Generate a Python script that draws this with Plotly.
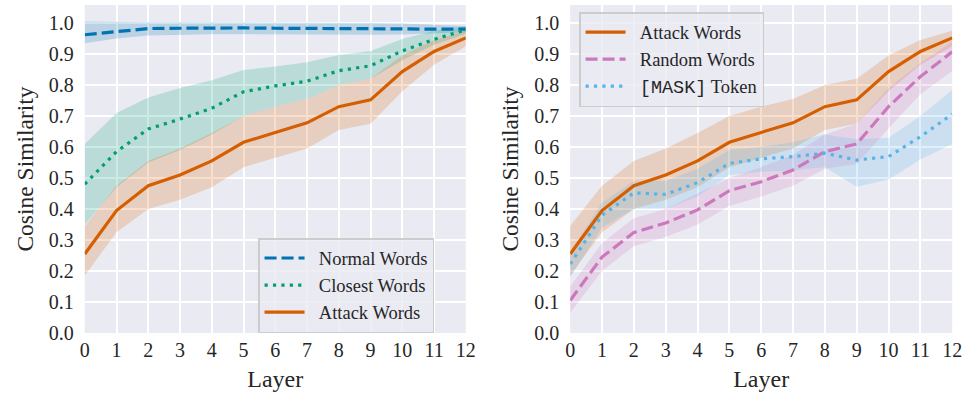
import plotly.graph_objects as go

layers = list(range(13))

# Left panel
normal_mean = [0.962, 0.972, 0.982, 0.983, 0.984, 0.984, 0.983, 0.983, 0.983, 0.982, 0.981, 0.980, 0.980]
normal_lo   = [0.935, 0.950, 0.960, 0.962, 0.964, 0.964, 0.963, 0.963, 0.963, 0.962, 0.963, 0.966, 0.970]
normal_hi   = [1.005, 1.003, 1.002, 1.002, 1.002, 1.002, 1.001, 1.001, 1.001, 1.000, 0.998, 0.994, 0.990]

closest_mean = [0.480, 0.585, 0.658, 0.690, 0.725, 0.778, 0.797, 0.812, 0.846, 0.862, 0.910, 0.947, 0.978]
closest_lo   = [0.350, 0.470, 0.550, 0.590, 0.640, 0.700, 0.730, 0.755, 0.800, 0.820, 0.880, 0.930, 0.965]
closest_hi   = [0.610, 0.710, 0.760, 0.790, 0.815, 0.848, 0.860, 0.873, 0.897, 0.910, 0.948, 0.975, 0.990]

attack_mean = [0.255, 0.395, 0.475, 0.510, 0.555, 0.615, 0.647, 0.678, 0.730, 0.752, 0.843, 0.908, 0.952]
attack_lo   = [0.185, 0.325, 0.400, 0.430, 0.470, 0.535, 0.565, 0.595, 0.655, 0.675, 0.780, 0.865, 0.925]
attack_hi   = [0.345, 0.475, 0.555, 0.595, 0.645, 0.700, 0.730, 0.755, 0.800, 0.820, 0.895, 0.945, 0.975]

# Right panel
random_mean = [0.105, 0.245, 0.324, 0.355, 0.397, 0.459, 0.488, 0.526, 0.585, 0.610, 0.730, 0.827, 0.907]
random_lo   = [0.065, 0.200, 0.280, 0.310, 0.350, 0.410, 0.440, 0.475, 0.530, 0.545, 0.660, 0.770, 0.845]
random_hi   = [0.150, 0.290, 0.370, 0.400, 0.450, 0.500, 0.535, 0.575, 0.640, 0.675, 0.790, 0.870, 0.940]

mask_mean = [0.222, 0.380, 0.452, 0.447, 0.485, 0.547, 0.562, 0.569, 0.580, 0.558, 0.569, 0.633, 0.706]
mask_lo   = [0.180, 0.340, 0.400, 0.400, 0.440, 0.510, 0.520, 0.525, 0.535, 0.472, 0.495, 0.560, 0.610]
mask_hi   = [0.260, 0.420, 0.490, 0.490, 0.530, 0.590, 0.600, 0.615, 0.640, 0.625, 0.630, 0.700, 0.785]

BLUE = "#0173B2"
GREEN = "#029E73"
ORANGE = "#D55E00"
PINK = "#CC78BC"
LBLUE = "#56B4E9"

def rgba(hexc, a):
    h = hexc.lstrip("#")
    return "rgba(%d,%d,%d,%.2f)" % (int(h[0:2], 16), int(h[2:4], 16), int(h[4:6], 16), a)

SERIF = "Liberation Serif, Times New Roman, serif"
TXT = "#262626"
GAP = "\u2002"

fig = go.Figure()

def band(lo, hi, color, xa, ya):
    fig.add_trace(go.Scatter(
        x=layers + layers[::-1], y=hi + lo[::-1], fill="toself",
        fillcolor=rgba(color, 0.2), line=dict(width=0), mode="lines",
        hoverinfo="skip", showlegend=False, xaxis=xa, yaxis=ya))

def line(mean, color, dash, name, xa, ya, legend):
    fig.add_trace(go.Scatter(
        x=layers, y=mean, mode="lines", name=GAP + name,
        line=dict(color=color, width=3.2, dash=dash),
        xaxis=xa, yaxis=ya, legend=legend))

DASH = "12px,5px"
DOT = "3.2px,5.2px"

# left
band(normal_lo, normal_hi, BLUE, "x", "y")
band(closest_lo, closest_hi, GREEN, "x", "y")
band(attack_lo, attack_hi, ORANGE, "x", "y")
line(normal_mean, BLUE, DASH, "Normal Words", "x", "y", "legend")
line(closest_mean, GREEN, DOT, "Closest Words", "x", "y", "legend")
line(attack_mean, ORANGE, "solid", "Attack Words", "x", "y", "legend")

# right
band(attack_lo, attack_hi, ORANGE, "x2", "y2")
band(random_lo, random_hi, PINK, "x2", "y2")
band(mask_lo, mask_hi, LBLUE, "x2", "y2")
line(attack_mean, ORANGE, "solid", "Attack Words", "x2", "y2", "legend2")
line(random_mean, PINK, DASH, "Random Words", "x2", "y2", "legend2")
line(mask_mean, LBLUE, DOT,
     "<span style=\"font-family:'Liberation Mono'\">[MASK]</span> Token",
     "x2", "y2", "legend2")

xaxis_common = dict(range=[0, 12], dtick=1, tick0=0, showgrid=True, gridcolor="white",
                    gridwidth=1.6, zeroline=False, showline=False, ticks="",
                    tickfont=dict(family=SERIF, size=20, color=TXT),
                    ticklabelstandoff=3,
                    title=dict(text="Layer", font=dict(family=SERIF, size=24, color=TXT),
                               standoff=10))
yaxis_common = dict(range=[0, 1.058], dtick=0.1, tick0=0, tickformat=".1f", showgrid=True,
                    gridcolor="white", gridwidth=1.6, zeroline=False, showline=False, ticks="",
                    tickfont=dict(family=SERIF, size=20, color=TXT),
                    ticklabelstandoff=10,
                    title=dict(text="Cosine Similarity", font=dict(family=SERIF, size=23.5, color=TXT),
                               standoff=8))

LEG = dict(xanchor="left", yanchor="top",
           bgcolor="rgba(234,234,242,0.8)", bordercolor="#CCCCCC", borderwidth=1.5,
           font=dict(family=SERIF, size=18.5, color=TXT), itemwidth=40,
           tracegroupgap=0)

fig.update_layout(
    width=976, height=396,
    margin=dict(l=0, r=0, t=5, b=63),
    paper_bgcolor="white", plot_bgcolor="#EAEAF2",
    xaxis=dict(domain=[81/976, 468/976], anchor="y", **xaxis_common),
    yaxis=dict(domain=[0, 1], anchor="x", **yaxis_common),
    xaxis2=dict(domain=[574/976, 962/976], anchor="y2", **xaxis_common),
    yaxis2=dict(domain=[0, 1], anchor="x2", **yaxis_common),
    legend=dict(x=257/976, y=(333-238)/328, **LEG),
    legend2=dict(x=583/976, y=(333-12)/328, **LEG),
)

fig.write_html("out.html")
